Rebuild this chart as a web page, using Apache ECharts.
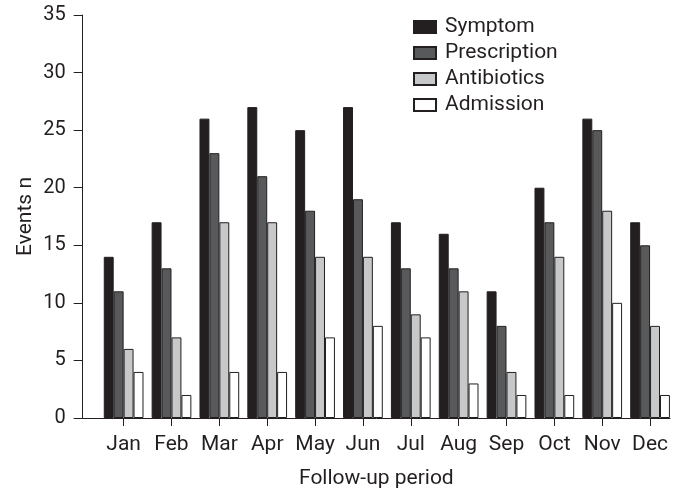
<!DOCTYPE html>
<html>
<head>
<meta charset="utf-8">
<style>
  html, body { margin: 0; padding: 0; background: #ffffff; }
  #chart { width: 681px; height: 489px; }
</style>
<script src="https://cdn.jsdelivr.net/npm/echarts@6/dist/echarts.min.js"></script>
</head>
<body>
<div id="chart"></div>
<script>
// Monthly event counts over the follow-up period
const months = ['Jan', 'Feb', 'Mar', 'Apr', 'May', 'Jun', 'Jul', 'Aug', 'Sep', 'Oct', 'Nov', 'Dec'];
const symptom      = [14, 17, 26, 27, 25, 27, 17, 16, 11, 20, 26, 17];
const prescription = [11, 13, 23, 21, 18, 19, 13, 13,  8, 17, 25, 15];
const antibiotics  = [ 6,  7, 17, 17, 14, 14,  9, 11,  4, 14, 18,  8];
const admission    = [ 4,  2,  4,  4,  7,  8,  7,  3,  2,  2, 10,  2];
const yTicks = { min: 0, max: 35, step: 5 };

const ink = '#231f20';
const font = 'Roboto, "Liberation Sans", sans-serif';
const fontSize = 21;

// Plot area: the bars sit in grid 0, the visible axes in grid 1
const plotTop = 15;
const plotHeight = 403;

function barSeries(name, data, color) {
  return {
    name: name,
    type: 'bar',
    data: data,
    xAxisIndex: 0,
    yAxisIndex: 0,
    barGap: '0%',
    barCategoryGap: '17%',
    itemStyle: { color: color, borderColor: ink, borderWidth: 1 },
    emphasis: { disabled: true }
  };
}

const chart = echarts.init(document.getElementById('chart'), null, { renderer: 'canvas' });
chart.setOption({
  animation: false,
  backgroundColor: '#ffffff',
  textStyle: { fontFamily: font, color: ink },
  grid: [
    { left: 99.7, width: 574.3, top: plotTop, height: plotHeight, containLabel: false, outerBoundsMode: 'none' },
    { left: 82.7, width: 587.3, top: plotTop, height: plotHeight, containLabel: false, outerBoundsMode: 'none' }
  ],
  legend: {
    orient: 'vertical',
    left: 413,
    top: 16.5,
    padding: 0,
    itemWidth: 22,
    itemHeight: 12,
    itemGap: 5,
    icon: 'rect',
    selectedMode: false,
    textStyle: { fontFamily: font, fontSize: fontSize, color: ink, padding: [0, 0, 0, 4] },
    data: ['Symptom', 'Prescription', 'Antibiotics', 'Admission']
  },
  xAxis: [
    {
      type: 'category',
      gridIndex: 0,
      data: months,
      axisLine: { show: false },
      axisTick: { show: true, alignWithLabel: true, interval: 0, length: 8, lineStyle: { color: ink, width: 1 } },
      axisLabel: { interval: 0, margin: 16, fontFamily: font, fontSize: fontSize, color: ink },
      splitLine: { show: false }
    },
    {
      type: 'value',
      gridIndex: 1,
      min: 0,
      max: 1,
      name: 'Follow-up period',
      nameLocation: 'middle',
      nameGap: 50,
      nameMoveOverlap: false,
      nameTextStyle: { fontFamily: font, fontSize: fontSize, color: ink },
      axisLine: { show: true, onZero: false, lineStyle: { color: ink, width: 1 } },
      axisTick: { show: false },
      axisLabel: { show: false },
      splitLine: { show: false }
    }
  ],
  yAxis: [
    {
      type: 'value',
      gridIndex: 0,
      min: yTicks.min,
      max: yTicks.max,
      interval: yTicks.step,
      show: false,
      splitLine: { show: false }
    },
    {
      type: 'value',
      gridIndex: 1,
      min: yTicks.min,
      max: yTicks.max,
      interval: yTicks.step,
      name: 'Events n',
      nameLocation: 'middle',
      nameGap: 46,
      nameMoveOverlap: false,
      nameRotate: 90,
      nameTextStyle: { fontFamily: font, fontSize: fontSize, color: ink },
      axisLine: { show: true, lineStyle: { color: ink, width: 1 } },
      axisTick: { show: true, length: 9, lineStyle: { color: ink, width: 1 } },
      axisLabel: { margin: 17, fontFamily: font, fontSize: 20, color: ink },
      splitLine: { show: false }
    }
  ],
  series: [
    barSeries('Symptom', symptom, '#231f20'),
    barSeries('Prescription', prescription, '#58595b'),
    barSeries('Antibiotics', antibiotics, '#c7c8ca'),
    barSeries('Admission', admission, '#ffffff')
  ]
});
</script>
</body>
</html>
